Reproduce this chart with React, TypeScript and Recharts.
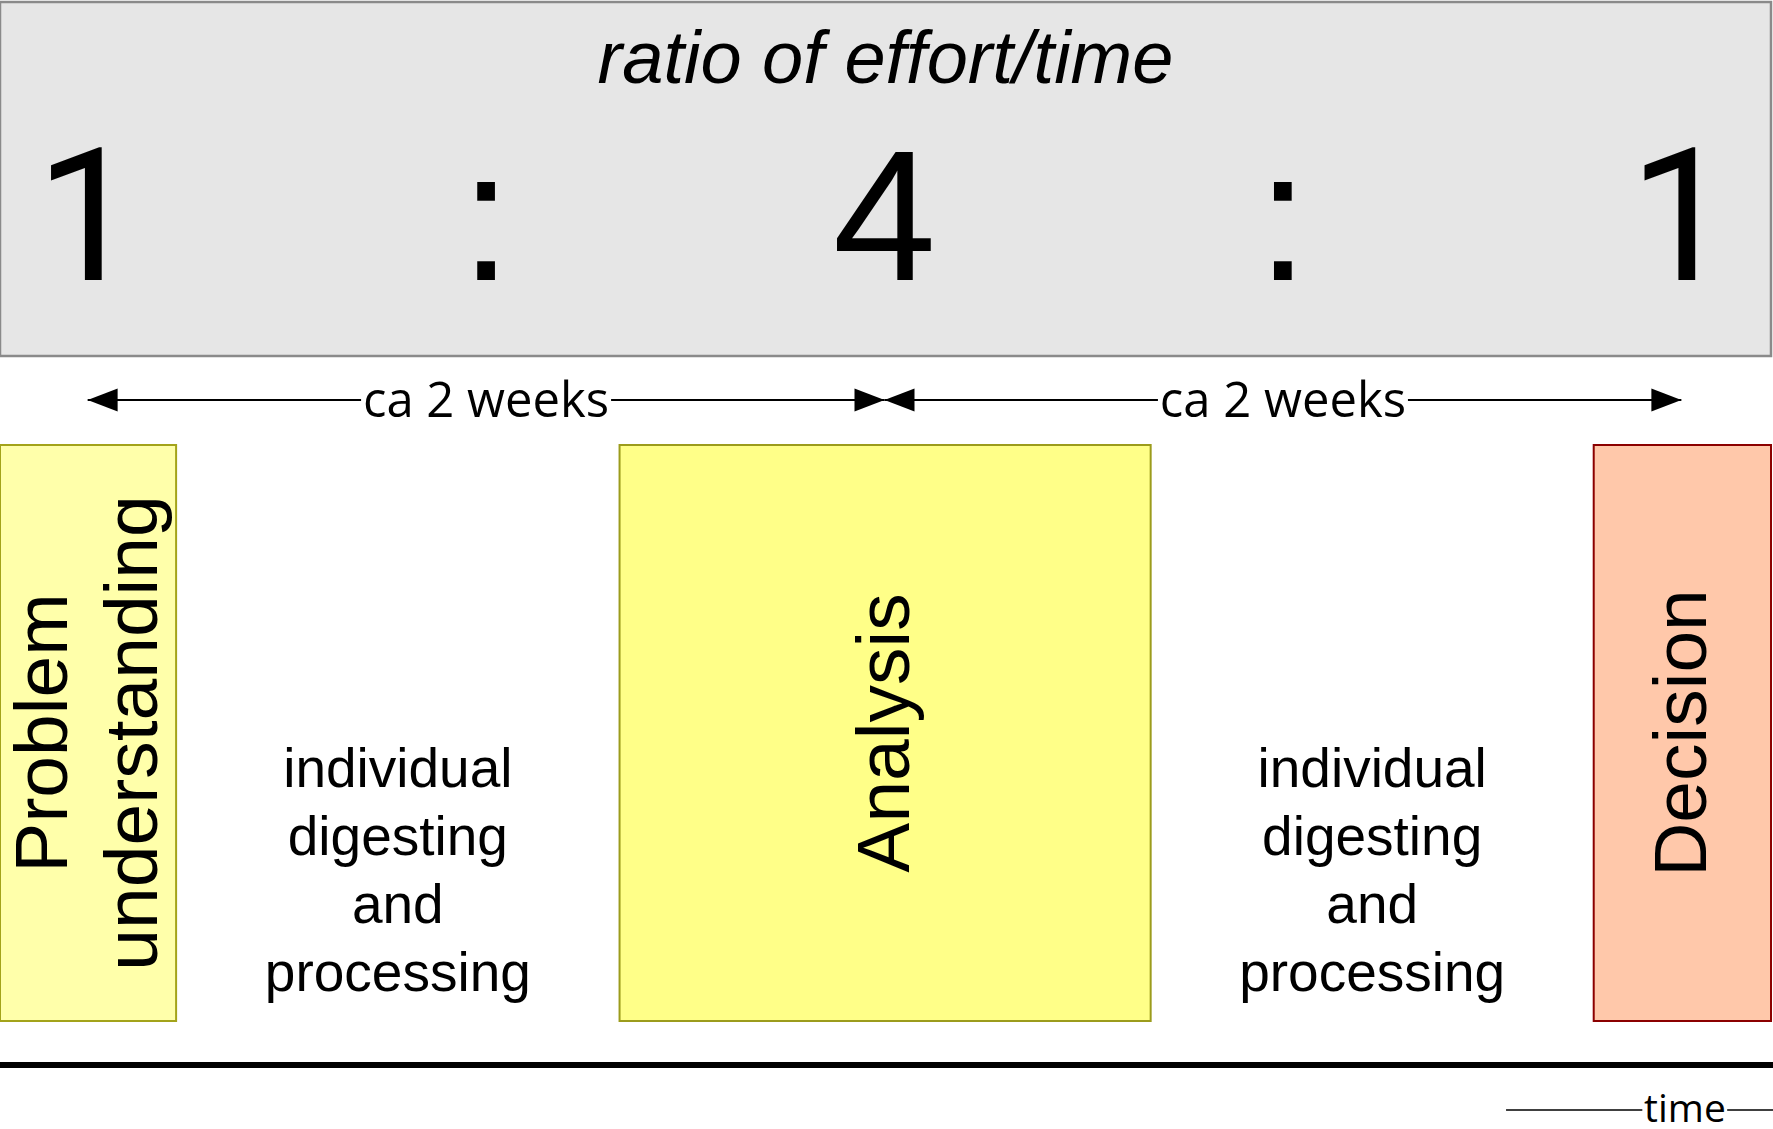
import { ComposedChart, XAxis, YAxis, ReferenceArea, ReferenceLine, ReferenceDot, Scatter } from 'recharts'

const W = 1773
const H = 1129

// horizontal axis = time in weeks
const weekDomain: [number, number] = [-0.22, 4.23]

const phaseNames = ['Problem understanding', 'Analysis', 'Decision']
const phaseStart = [-0.22, 1.335, 3.78]
const phaseEnd = [0.222, 2.668, 4.225]

const ratioLabels = ['1', ':', '4', ':', '1']
const ratioWeeks = [0, 1, 2, 3, 4]

const spanFrom = [0, 2]
const spanTo = [2, 4]
const spanLabels = ['ca 2 weeks', 'ca 2 weeks']

const gapLines = ['individual', 'digesting', 'and', 'processing']

// styles / layout
const ARIAL = '"Liberation Sans", Arial, sans-serif'
const CALIBRI = '"Open Sans", sans-serif'
// Liberation's "1" has a foot, the original Arial one does not
const ONE_FONT = 'Roboto, "Liberation Sans", sans-serif'
const phaseStyle = [
  { fill: '#ffffaa', stroke: '#a3a31a' },
  { fill: '#ffff88', stroke: '#9c9c1c' },
  { fill: '#ffc8aa', stroke: '#8b0000' },
]
const HEADER_TOP = 2
const HEADER_BOTTOM = 356
const RATIO_Y = 280
const SPAN_Y = 400
const BOX_TOP = 445
const BOX_BOTTOM = 1021
const GAP_Y = 787
const BASE_Y = 1065
const TIME_Y = 1110

const ratioTable = ratioWeeks.map((w, i) => ({ week: w, row: RATIO_Y, text: ratioLabels[i] }))
const gapTable = phaseEnd.slice(0, -1).map((e, i) => ({ week: (e + phaseStart[i + 1]) / 2, row: GAP_Y }))

function HeaderTitle({ viewBox }: any) {
  const cx = viewBox.x + viewBox.width / 2
  return (
    <text x={cx} y={viewBox.y + 81} textAnchor="middle" fontFamily={ARIAL} fontStyle="italic" fontSize={74} fill="#000">
      ratio of effort/time
    </text>
  )
}

function PhaseLabel({ viewBox, name }: any) {
  const lines = name.split(' ')
  const cx = viewBox.x + viewBox.width / 2
  const cy = viewBox.y + viewBox.height / 2
  return (
    <g>
      {lines.map((l: string, i: number) => {
        const bx = cx + (i - (lines.length - 1) / 2) * 90 + 24
        return (
          <text key={l} x={0} y={0} transform={`translate(${bx},${cy}) rotate(-90)`} textAnchor="middle"
            fontFamily={ARIAL} fontSize={75} fill="#000">{l}</text>
        )
      })}
    </g>
  )
}

function SpanMark({ viewBox, text }: any) {
  const { x, y, width } = viewBox
  const cx = x + width / 2
  const a = 30
  const h = 11.5
  const gap = 125
  return (
    <g>
      <rect x={cx - gap} y={y - 20} width={gap * 2} height={40} fill="#fff" />
      <polygon points={`${x},${y} ${x + a},${y - h} ${x + a},${y + h}`} fill="#000" />
      <polygon points={`${x + width},${y} ${x + width - a},${y - h} ${x + width - a},${y + h}`} fill="#000" />
      <text x={cx} y={y + 17} textAnchor="middle" fontFamily={CALIBRI} fontSize={49} fill="#000">{text}</text>
    </g>
  )
}

export default function App() {
  return (
    <div style={{ position: 'absolute', left: 0, top: 0, width: W, height: H, background: '#fff' }}>
      <ComposedChart width={W} height={H} margin={{ top: 0, right: 0, bottom: 0, left: 0 }}>
        <XAxis dataKey="week" type="number" domain={weekDomain} hide allowDataOverflow />
        <YAxis dataKey="row" type="number" domain={[0, H]} reversed hide allowDataOverflow />

        <ReferenceArea
          x1={weekDomain[0]} x2={weekDomain[1] - 0.005} y1={HEADER_TOP} y2={HEADER_BOTTOM}
          fill="#e6e6e6" fillOpacity={1} stroke="#8a8a8a" strokeWidth={2.5} ifOverflow="visible"
          label={(p: any) => <HeaderTitle viewBox={p.viewBox} />}
        />

        {phaseNames.map((name, i) => (
          <ReferenceArea
            key={name}
            x1={phaseStart[i]} x2={phaseEnd[i]} y1={BOX_TOP} y2={BOX_BOTTOM}
            fill={phaseStyle[i].fill} fillOpacity={1} stroke={phaseStyle[i].stroke} strokeWidth={2}
            ifOverflow="visible"
            label={(p: any) => <PhaseLabel viewBox={p.viewBox} name={name} />}
          />
        ))}

        {spanFrom.map((s, i) => (
          <ReferenceLine
            key={i}
            segment={[{ x: s, y: SPAN_Y }, { x: spanTo[i], y: SPAN_Y }]}
            stroke="#000" strokeWidth={2} ifOverflow="visible"
            label={(p: any) => <SpanMark viewBox={p.viewBox} text={spanLabels[i]} />}
          />
        ))}

        <ReferenceLine y={BASE_Y} stroke="#000" strokeWidth={6} ifOverflow="visible" />

        <ReferenceLine segment={[{ x: 3.56, y: TIME_Y }, { x: 3.902, y: TIME_Y }]} stroke="#000" strokeWidth={1.5} ifOverflow="visible" />
        <ReferenceLine segment={[{ x: 4.115, y: TIME_Y }, { x: weekDomain[1], y: TIME_Y }]} stroke="#000" strokeWidth={1.5} ifOverflow="visible" />
        <ReferenceDot
          x={4.009} y={TIME_Y + 12} r={0} ifOverflow="visible"
          shape={(p: any) => (
            <text x={p.cx} y={p.cy} textAnchor="middle" fontFamily={CALIBRI} fontSize={39} fill="#000">time</text>
          )}
        />

        <Scatter
          data={ratioTable} dataKey="row" isAnimationActive={false}
          shape={(p: any) => (
            <text x={p.cx} y={p.cy} textAnchor="middle" fontFamily={p.payload.text === '1' ? ONE_FONT : ARIAL}
              fontSize={186} fill="#000">{p.payload.text}</text>
          )}
        />

        <Scatter
          data={gapTable} dataKey="row" isAnimationActive={false}
          shape={(p: any) => (
            <g>
              {gapLines.map((l, k) => (
                <text key={l} x={p.cx} y={p.cy + k * 68} textAnchor="middle" fontFamily={ARIAL} fontSize={55} fill="#000">{l}</text>
              ))}
            </g>
          )}
        />
      </ComposedChart>
    </div>
  )
}
